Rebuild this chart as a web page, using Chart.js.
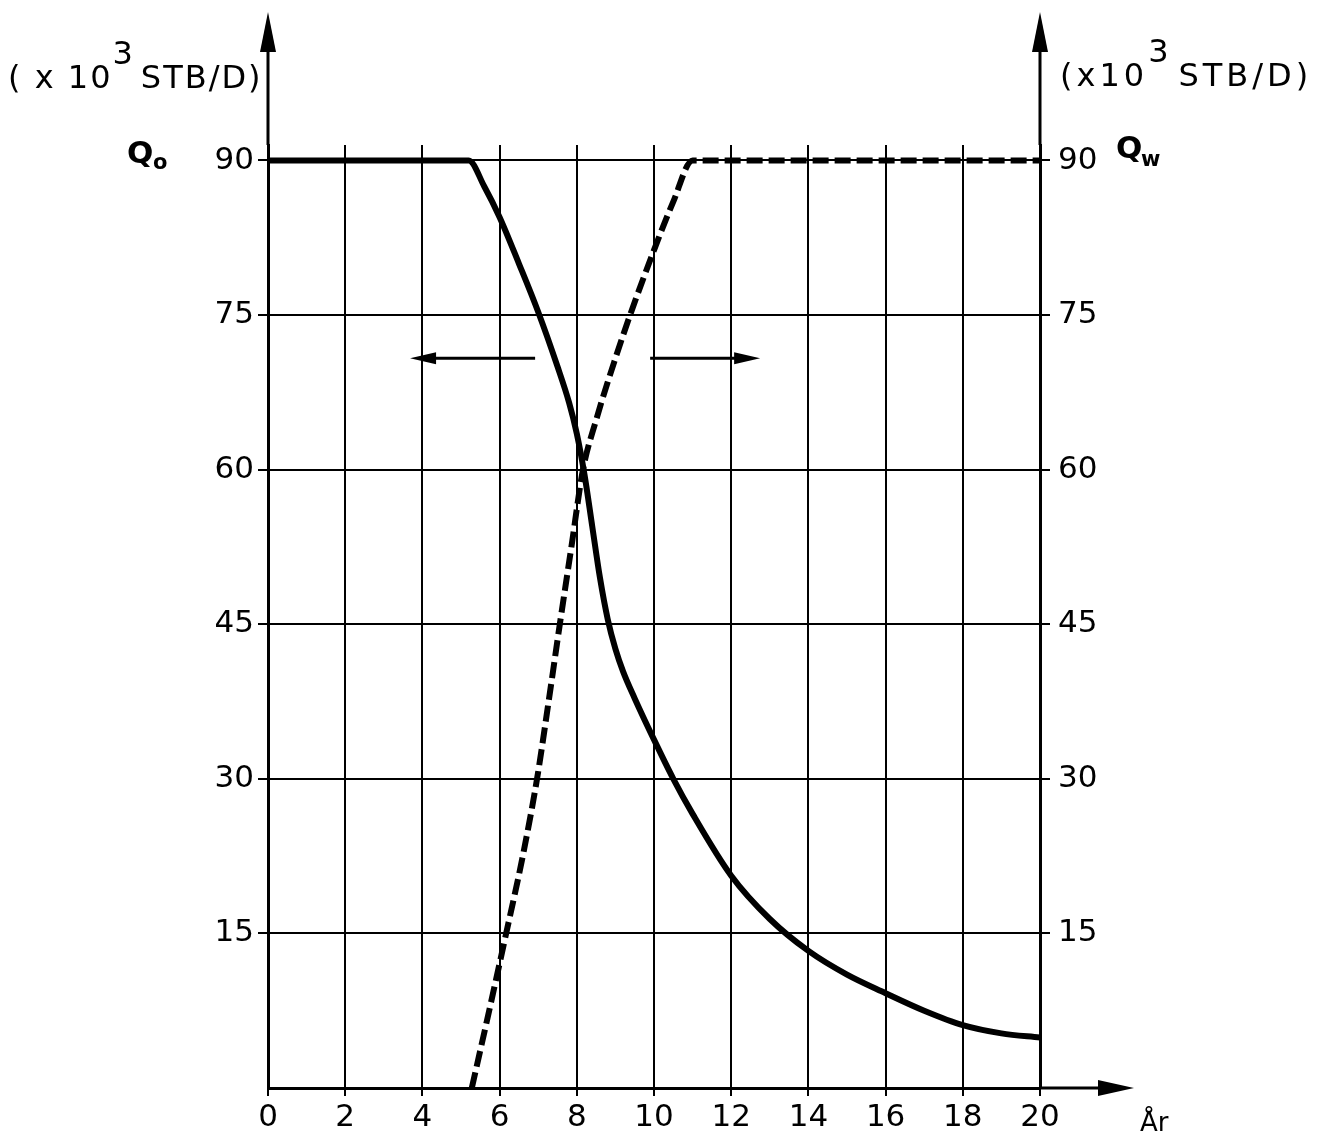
<!DOCTYPE html>
<html>
<head>
<meta charset="utf-8">
<script src="https://cdn.jsdelivr.net/npm/chart.js@4.4.1/dist/chart.umd.min.js"></script>
<style>
  html, body { margin: 0; padding: 0; background: #fff; }
</style>
</head>
<body>
<canvas id="chart" width="1335" height="1138"></canvas>
<script>
// Qo (oil rate, left axis, solid) and Qw (water rate, right axis, dashed), x10^3 STB/D
const oilAr = [0, 5.2, 5.6, 6.0, 6.5, 7.0, 7.5, 7.8, 8.0, 8.2, 8.4, 8.6, 8.8, 9.0, 9.2, 9.5, 10, 10.5, 11, 12, 13, 14, 15, 16, 17, 18, 19, 20];
const oilQ = [90, 90, 87.5, 84.5, 80, 75.3, 70, 66.5, 63.5, 59.5, 54.5, 49.5, 45.5, 42.6, 40.4, 37.8, 33.8, 30, 26.6, 20.6, 16.4, 13.3, 11, 9.2, 7.5, 6.1, 5.3, 4.9];

const waterAr = [5.28, 5.7, 6.17, 6.6, 6.97, 7.27, 7.56, 7.86, 8.16, 8.5, 9.0, 9.38, 10, 10.5, 11, 20];
const waterQ = [0, 7, 15, 22.5, 30, 37.5, 45, 52.5, 60, 64.8, 70.8, 75, 81.3, 86, 90, 90];

const yTicks = [15, 30, 45, 60, 75, 90];
const arrowLevel = 70.8;      // height of the two direction arrows
const leftArrow = [6.92, 3.68];
const rightArrow = [9.9, 12.75];

const FONT = "'DejaVu Sans', sans-serif";

function toPoints(xs, ys) {
  return xs.map((x, i) => ({ x: x, y: ys[i] }));
}

function arrowHead(ctx, tipX, tipY, dx, dy, len, half) {
  // dx, dy: unit direction the arrow points to
  const bx = tipX - dx * len, by = tipY - dy * len;
  ctx.beginPath();
  ctx.moveTo(tipX, tipY);
  ctx.lineTo(bx - dy * half, by + dx * half);
  ctx.lineTo(bx + dy * half, by - dx * half);
  ctx.closePath();
  ctx.fill();
}

const decorations = {
  id: "decorations",
  afterDraw(chart) {
    const ctx = chart.ctx;
    const a = chart.chartArea;
    const xs = chart.scales.x, ys = chart.scales.y;
    ctx.save();
    ctx.strokeStyle = "#000";
    ctx.fillStyle = "#000";
    ctx.lineWidth = 3;

    // axis extensions with arrowheads
    ctx.beginPath();
    ctx.moveTo(a.left, a.top); ctx.lineTo(a.left, 40);
    ctx.moveTo(a.right, a.top); ctx.lineTo(a.right, 40);
    ctx.moveTo(a.right, a.bottom); ctx.lineTo(1110, a.bottom);
    ctx.stroke();
    arrowHead(ctx, a.left, 12, 0, -1, 40, 8);
    arrowHead(ctx, a.right, 12, 0, -1, 40, 8);
    arrowHead(ctx, 1134, a.bottom, 1, 0, 36, 8);

    // direction arrows
    const yy = ys.getPixelForValue(arrowLevel);
    ctx.beginPath();
    ctx.moveTo(xs.getPixelForValue(leftArrow[0]), yy);
    ctx.lineTo(xs.getPixelForValue(leftArrow[1]) + 20, yy);
    ctx.moveTo(xs.getPixelForValue(rightArrow[0]), yy);
    ctx.lineTo(xs.getPixelForValue(rightArrow[1]) - 20, yy);
    ctx.stroke();
    arrowHead(ctx, xs.getPixelForValue(leftArrow[1]), yy, -1, 0, 26, 6);
    arrowHead(ctx, xs.getPixelForValue(rightArrow[1]), yy, 1, 0, 26, 6);

    // unit labels
    ctx.textBaseline = "alphabetic";
    ctx.textAlign = "left";
    function unitLabel(x, base, pre, post, spacing) {
      ctx.font = "32px " + FONT;
      ctx.letterSpacing = spacing;
      ctx.fillText(pre, x, base);
      x += ctx.measureText(pre).width;
      ctx.fillText("3", x, base - 24);
      x += ctx.measureText("3").width + 6;
      ctx.fillText(post, x, base);
      ctx.letterSpacing = "0px";
    }
    unitLabel(8, 88, "( x 10", "STB/D)", "2px");
    unitLabel(1060, 86, "(x10", "STB/D)", "4px");

    // Qo / Qw
    ctx.font = "bold 31px " + FONT;
    ctx.fillText("Q", 127, 163);
    ctx.fillText("Q", 1116, 158);
    ctx.font = "bold 21px " + FONT;
    ctx.fillText("o", 153, 169);
    ctx.fillText("w", 1141, 166);

    // x label
    ctx.font = "26px " + FONT;
    ctx.fillText("År", 1140, 1131);
    ctx.restore();
  }
};

const tickFont = { family: FONT, size: 31 };

new Chart(document.getElementById("chart").getContext("2d"), {
  type: "line",
  data: {
    datasets: [
      {
        label: "Qo",
        data: toPoints(oilAr, oilQ),
        yAxisID: "y",
        borderColor: "#000",
        borderWidth: 6,
        pointRadius: 0,
        cubicInterpolationMode: "monotone",
        fill: false
      },
      {
        label: "Qw",
        data: toPoints(waterAr, waterQ),
        yAxisID: "y1",
        borderColor: "#000",
        borderWidth: 6,
        borderDash: [16, 6],
        pointRadius: 0,
        cubicInterpolationMode: "monotone",
        fill: false
      }
    ]
  },
  options: {
    responsive: false,
    animation: false,
    layout: { padding: { top: 145, left: 0, right: 0, bottom: 0 } },
    plugins: { legend: { display: false }, tooltip: { enabled: false } },
    scales: {
      x: {
        type: "linear",
        min: 0,
        max: 20,
        ticks: { stepSize: 2, color: "#000", font: tickFont, padding: 3, maxRotation: 0 },
        grid: { color: "#000", lineWidth: 2, tickLength: 8, tickColor: "#000" },
        border: { color: "#000", width: 3 },
        afterFit: (s) => { s.height = 50; }
      },
      y: {
        position: "left",
        min: 0,
        max: 91.5,
        afterBuildTicks: (s) => { s.ticks = yTicks.map((v) => ({ value: v })); },
        ticks: { color: "#000", font: tickFont, padding: 4 },
        grid: { color: "#000", lineWidth: 2, tickLength: 10, tickColor: "#000" },
        border: { color: "#000", width: 3 },
        afterFit: (s) => { s.width = 268; }
      },
      y1: {
        position: "right",
        min: 0,
        max: 91.5,
        afterBuildTicks: (s) => { s.ticks = yTicks.map((v) => ({ value: v })); },
        ticks: { color: "#000", font: tickFont, padding: 8 },
        grid: { drawOnChartArea: false, color: "#000", lineWidth: 2, tickLength: 10, tickColor: "#000" },
        border: { color: "#000", width: 3 },
        afterFit: (s) => { s.width = 295; }
      }
    }
  },
  plugins: [decorations]
});
</script>
</body>
</html>
